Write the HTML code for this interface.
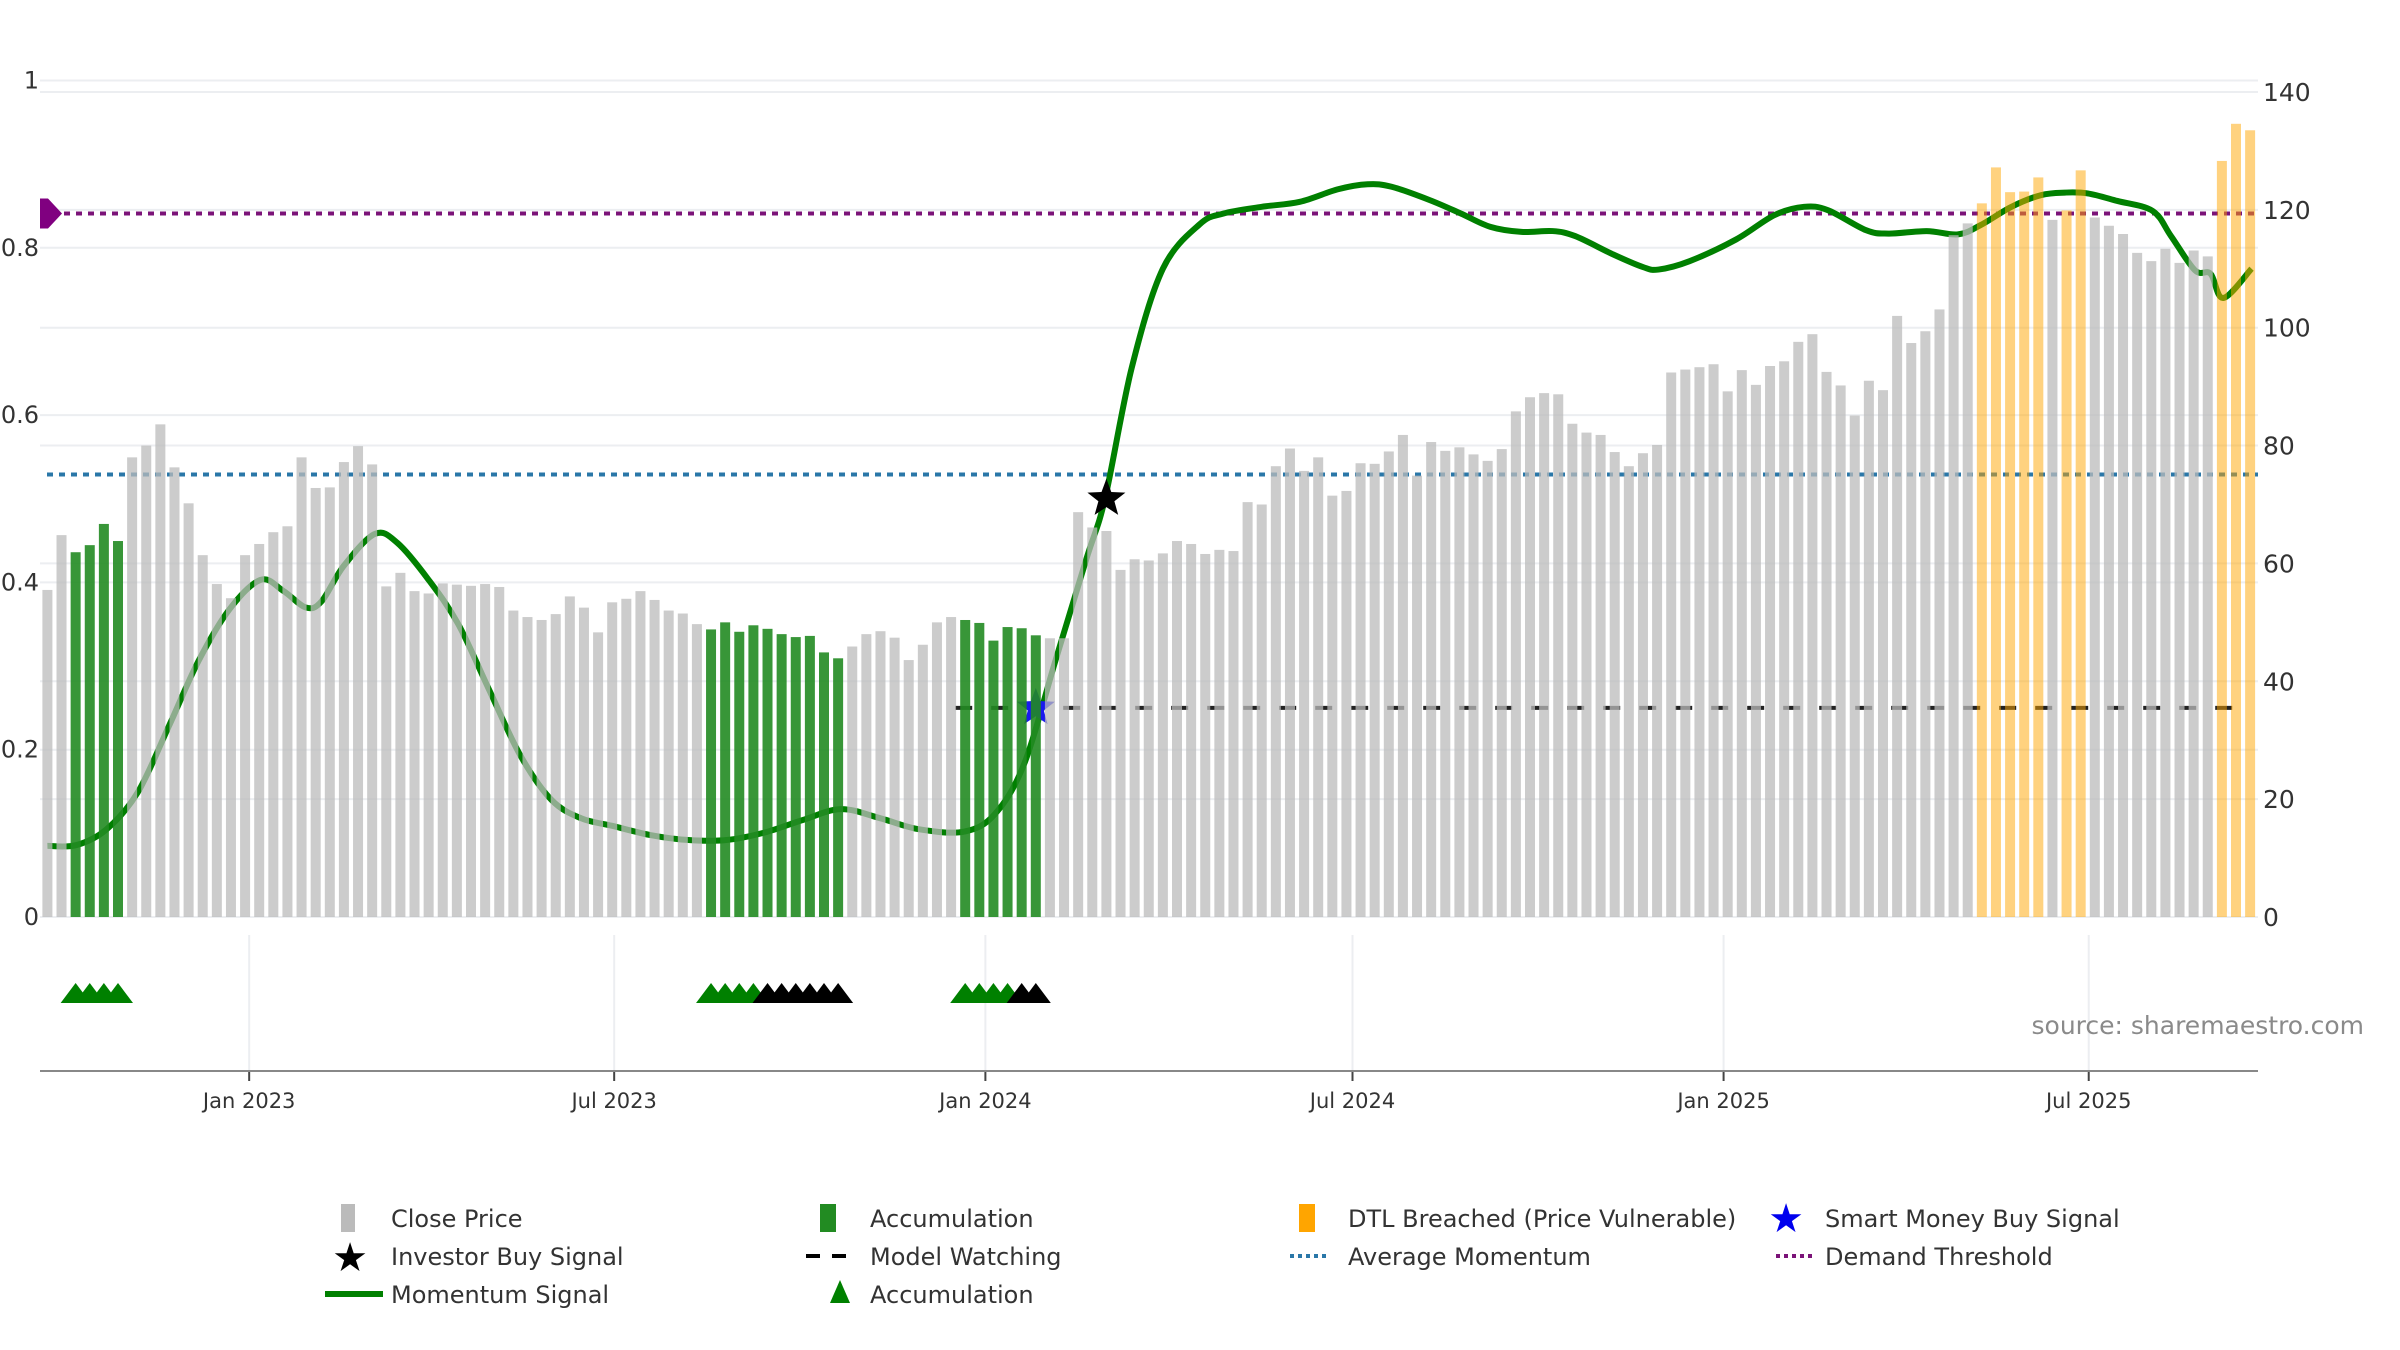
<!DOCTYPE html>
<html><head><meta charset="utf-8"><style>
html,body{margin:0;padding:0;background:#fff;}
svg{display:block;font-family:"DejaVu Sans","Liberation Sans",sans-serif;}
</style></head><body>
<svg id="chart" width="2400" height="1350" viewBox="0 0 2400 1350" xmlns="http://www.w3.org/2000/svg">
<g id="grid"></g>
<g id="under"></g>
<g id="bars"></g>
<g id="over"></g>
<g id="axes"></g>
<text x="2364" y="1034" text-anchor="end" font-size="25" fill="#8a8a8a">source: sharemaestro.com</text>
<g id="legend" font-size="24" fill="#333">
 <g><rect x="341" y="1204" width="14" height="28" fill="#bbb"/><text x="391" y="1227">Close Price</text></g>
 <g><rect x="820" y="1204" width="16" height="28" fill="#228b22"/><text x="870" y="1227">Accumulation</text></g>
 <g><rect x="1299" y="1204" width="16" height="28" fill="#ffa500"/><text x="1348" y="1227">DTL Breached (Price Vulnerable)</text></g>
 <g><text x="1786" y="1232" font-size="40" fill="#0000ee" text-anchor="middle">★</text><text x="1825" y="1227">Smart Money Buy Signal</text></g>
 <g><text x="350" y="1271" font-size="40" fill="#000" text-anchor="middle">★</text><text x="391" y="1265">Investor Buy Signal</text></g>
 <g><line x1="806" y1="1256" x2="852" y2="1256" stroke="#000" stroke-width="4" stroke-dasharray="14,12"/><text x="870" y="1265">Model Watching</text></g>
 <g><line x1="1290" y1="1256" x2="1330" y2="1256" stroke="#2a77a8" stroke-width="4" stroke-dasharray="4,4"/><text x="1348" y="1265">Average Momentum</text></g>
 <g><line x1="1776" y1="1256" x2="1816" y2="1256" stroke="#7b1378" stroke-width="4" stroke-dasharray="4,4"/><text x="1825" y="1265">Demand Threshold</text></g>
 <g><line x1="325" y1="1294" x2="383" y2="1294" stroke="#008000" stroke-width="6"/><text x="391" y="1303">Momentum Signal</text></g>
 <g><polygon points="840,1280 830,1303 850,1303" fill="#008000"/><text x="870" y="1303">Accumulation</text></g>
</g>
</svg>
<script>
const prices = [55.5,64.8,61.9,63.1,66.7,63.8,78,80,83.6,76.3,
70.2,61.4,56.5,54.1,61.4,63.3,65.3,66.3,78,72.8,
72.9,77.2,79.9,76.8,56.1,58.4,55.3,54.9,56.6,56.4,
56.2,56.5,56,52,50.9,50.4,51.4,54.4,52.5,48.3,
53.4,54,55.3,53.8,52,51.5,49.7,48.8,50,48.4,
49.5,48.9,48,47.5,47.7,44.9,43.9,45.9,48,48.5,
47.4,43.6,46.2,50,50.9,50.4,49.9,46.9,49.2,49,
47.8,47.3,47.3,68.7,66.1,65.5,58.9,60.7,60.5,61.7,
63.8,63.3,
61.6,62.3,62.1,70.4,70.0,76.5,79.5,75.7,78.0,71.5,
72.3,77.0,76.9,79.0,81.8,74.9,80.6,79.1,79.7,78.5,
77.4,79.4,85.8,88.2,88.9,88.7,83.7,82.2,81.8,78.9,
76.5,78.7,80.1,92.4,92.9,93.3,93.8,89.2,92.8,90.3,
93.5,94.3,97.6,98.9,92.5,90.2,85.1,91.0,89.4,102.0,
97.4,99.4,103.1,115.7,117.7,121.1,127.2,123.0,123.1,125.5,
118.3,119.9,126.7,118.7,117.3,115.9,112.7,111.3,113.4,111.0,
113.1,112.1,128.3,134.6,133.5];
const accumBars = [2,3,4,5,47,48,49,50,51,52,53,54,55,56,65,66,67,68,69,70];
const dtlBars = [137,138,139,140,141,143,144,154,155,156];
const momIdx = [0,2.06,4.2,6.4,8.6,10.7,12.9,15.1,16.7,18.3,19.4,21.0,23.2,24.8,27.0,29.1,31.3,33.5,35.7,37.8,40.0,42.7,45.4,48.1,50.8,53.5,56.2,59.0,61.7,64.9,67.1,69.2,71.4,73.6,74.9,76.8,79.0,81.6,83.3,86.0,88.7,91.4,93.5,95.2,97.9,100.1,102.2,104.4,106.6,108.2,110.9,113.0,114.1,116.3,119.6,122.3,124.4,126.1,128.8,130.4,133.1,135.3,136.9,139.1,141.2,142.9,144.5,146.6,149.1,150.4,152.1,153.2,154.1,156.1];
const momVal = [0.085,0.086,0.105,0.149,0.228,0.306,0.368,0.403,0.390,0.370,0.377,0.420,0.458,0.447,0.403,0.350,0.271,0.193,0.140,0.118,0.109,0.098,0.092,0.092,0.101,0.116,0.129,0.118,0.105,0.102,0.123,0.184,0.307,0.429,0.50,0.657,0.775,0.828,0.841,0.849,0.855,0.870,0.876,0.873,0.857,0.841,0.825,0.819,0.820,0.814,0.792,0.777,0.774,0.784,0.810,0.839,0.849,0.845,0.821,0.817,0.820,0.816,0.827,0.849,0.863,0.866,0.865,0.856,0.844,0.814,0.773,0.769,0.740,0.775];
const greenTri = [2,3,4,5,47,48,49,50,65,66,67,68];
const blackTri = [51,52,53,54,55,56,69,70];
const investorBuy = [75];
const investorVal = [0.5];
const smartMoney = [70];
const smartVal = [0.25];
const demandThreshold = 0.841;
const avgMomentum = 0.529;
const watchLevel = 0.25;
const watchStart = 65;
const leftTicks = [0,0.2,0.4,0.6,0.8,1];
const rightTicks = [0,20,40,60,80,100,120,140];
const dateTicks = ["Jan 2023","Jul 2023","Jan 2024","Jul 2024","Jan 2025","Jul 2025"];
const dateTickWeeks = [14.29,40.14,66.43,92.43,118.71,144.57];

const NS="http://www.w3.org/2000/svg";
const X0=47.4, DX=14.12, Y0=917;
const xS=i=>X0+i*DX;
const yL=v=>Y0-v*836.5;
const yR=p=>Y0-p*5.893;
function mk(tag,attrs,parent){const e=document.createElementNS(NS,tag);for(const k in attrs)e.setAttribute(k,attrs[k]);parent.appendChild(e);return e;}
const grid=document.getElementById('grid'),under=document.getElementById('under'),bars=document.getElementById('bars'),over=document.getElementById('over'),axes=document.getElementById('axes');

leftTicks.forEach(v=>{const l=mk('line',{x1:40,x2:2258,y1:yL(v),y2:yL(v),stroke:'#eceef1','stroke-width':2},grid);


const t=mk('text',{x:39,y:yL(v)+8,'text-anchor':'end','font-size':24,fill:'#333'},axes);t.textContent=String(v);

});
rightTicks.forEach(p=>{const l=mk('line',{x1:40,x2:2258,y1:yR(p),y2:yR(p),stroke:'#eceef1','stroke-width':2},grid);


const t=mk('text',{x:2263,y:yR(p)+9,'font-size':25,fill:'#333'},axes);t.textContent=String(p);

});
dateTicks.forEach((d,k)=>{const x=xS(dateTickWeeks[k]);
const g=mk('line',{x1:x,x2:x,y1:935,y2:1070,stroke:'#eceef1','stroke-width':2},grid);


const tk=mk('line',{x1:x,x2:x,y1:1071,y2:1081,stroke:'#444','stroke-width':2},axes);


const t=mk('text',{x:x,y:1108,'text-anchor':'middle','font-size':21,fill:'#333'},axes);t.textContent=d;

});
const ax=mk('line',{x1:40,x2:2258,y1:1071,y2:1071,stroke:'#888','stroke-width':2},axes);



const dl=mk('line',{x1:52,x2:2258,y1:yL(demandThreshold),y2:yL(demandThreshold),stroke:'#7b1378','stroke-width':4,'stroke-dasharray':'6,6'},under);


const dm=mk('polygon',{points:`40,${yL(demandThreshold)-15} 48,${yL(demandThreshold)-15} 62,${yL(demandThreshold)} 48,${yL(demandThreshold)+15} 40,${yL(demandThreshold)+15}`,fill:'#800080'},over);


const al=mk('line',{x1:47,x2:2258,y1:yL(avgMomentum),y2:yL(avgMomentum),stroke:'#2a77a8','stroke-width':4,'stroke-dasharray':'6,6'},under);


const wl=mk('line',{x1:xS(watchStart)-10,x2:xS(prices.length-1),y1:yL(watchLevel),y2:yL(watchLevel),stroke:'#222','stroke-width':4,'stroke-dasharray':'17,19'},under);



const pts=momIdx.map((i,k)=>[xS(i),yL(momVal[k])]);
let d=`M${pts[0][0]},${pts[0][1]}`;
for(let k=0;k<pts.length-1;k++){const p0=pts[Math.max(0,k-1)],p1=pts[k],p2=pts[k+1],p3=pts[Math.min(pts.length-1,k+2)];
d+=` C${p1[0]+(p2[0]-p0[0])/6},${p1[1]+(p2[1]-p0[1])/6} ${p2[0]-(p3[0]-p1[0])/6},${p2[1]-(p3[1]-p1[1])/6} ${p2[0]},${p2[1]}`;}
const ml=mk('path',{d:d,fill:'none',stroke:'#008000','stroke-width':6,'stroke-linejoin':'round'},under);



function star(cx,cy,r,fill,parent,name){let p=[];for(let k=0;k<10;k++){const a=-Math.PI/2+k*Math.PI/5,rr=k%2?r*0.42:r;p.push((cx+rr*Math.cos(a)).toFixed(1)+','+(cy+rr*Math.sin(a)).toFixed(1));}
const s=mk('polygon',{points:p.join(' '),fill:fill},parent);

}
smartMoney.forEach((i,k)=>star(xS(i),yL(smartVal[k]),20,'#1a1aee',under,'smart-money-buy-star'));

prices.forEach((p,i)=>{let fill='#bbbbbb',op=0.75;
if(accumBars.includes(i)){fill='#228b22';op=0.9;}
if(dtlBars.includes(i)){fill='#ffa500';op=0.5;}
const r=mk('rect',{x:xS(i)-5,y:yR(p),width:10,height:Y0-yR(p),fill:fill,'fill-opacity':op},bars);

});

investorBuy.forEach((i,k)=>star(xS(i),yL(investorVal[k]),20,'#000',over,'investor-buy-star'));
function tri(i,fill,name){const x=xS(i);const t=mk('polygon',{points:`${x},983 ${x-15},1003 ${x+15},1003`,fill:fill},over);

}
greenTri.forEach(i=>tri(i,'#008000','accumulation-marker'));
blackTri.forEach(i=>tri(i,'#000','watch-marker'));
</script>
</body></html>
